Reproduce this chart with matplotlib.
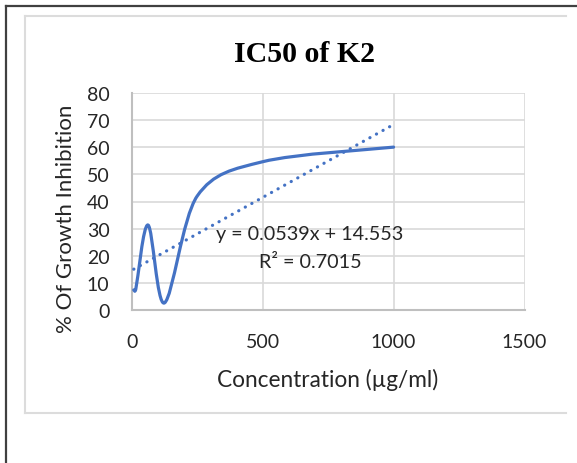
import matplotlib
matplotlib.use("Agg")
import matplotlib.pyplot as plt
from matplotlib.path import Path
from matplotlib.patches import PathPatch
from matplotlib.lines import Line2D
import numpy as np

# data
conc = [7.8125, 15.625, 62.5, 125, 250, 500, 1000]
inhibition = [7.3, 7.6, 31.3, 2.5, 42.0, 54.7, 60.1]
slope = 0.0539
intercept = 14.553
r2 = 0.7015

xticks = [0, 500, 1000, 1500]
yticks = [0, 10, 20, 30, 40, 50, 60, 70, 80]

W, H = 577, 464
blue = "#4472C4"
font = "Lato"


def smooth_path(xs, ys):
    # excel style smoothed line: bezier handles = (P[i+1] - P[i-1]) / 6,
    # shortened when they would run past the neighbouring point in x
    P = np.column_stack([xs, ys]).astype(float)
    n = len(P)
    hnd = np.zeros_like(P)
    hnd[0] = (P[1] - P[0]) / 6
    hnd[-1] = (P[-1] - P[-2]) / 6
    for i in range(1, n - 1):
        hnd[i] = (P[i + 1] - P[i - 1]) / 6
    verts = [tuple(P[0])]
    codes = [Path.MOVETO]
    for i in range(n - 1):
        dx = P[i + 1, 0] - P[i, 0]
        a = hnd[i] * min(1, 0.45 * dx / hnd[i, 0])
        b = hnd[i + 1] * min(1, 0.45 * dx / hnd[i + 1, 0])
        verts += [tuple(P[i] + a), tuple(P[i + 1] - b), tuple(P[i + 1])]
        codes += [Path.CURVE4] * 3
    return Path(verts, codes)


fig = plt.figure(figsize=(W / 100, H / 100), dpi=100)

# plot area in pixels
left, right, top, bottom = 131.7, 524.5, 94.3, 310.7
ax = fig.add_axes([left / W, 1 - bottom / H, (right - left) / W, (bottom - top) / H])

ax.add_patch(PathPatch(smooth_path(conc, inhibition), facecolor="none",
                       edgecolor=blue, lw=2.3, capstyle="round",
                       joinstyle="round", zorder=3))

xt = np.array([conc[0], conc[-1]])
ax.plot(xt, slope * xt + intercept, color=blue, lw=2.3,
        linestyle=(0, (0.05, 2.3)), dash_capstyle="round", zorder=3)

ax.set_xlim(0, 1500)
ax.set_ylim(0, 80)
ax.set_xticks(xticks)
ax.set_yticks(yticks)
ax.grid(True, color="#d9d9d9", lw=1.2)
ax.set_axisbelow(True)
for s in ["top", "right"]:
    ax.spines[s].set_visible(False)
for s in ["left", "bottom"]:
    ax.spines[s].set_color("#bfbfbf")
    ax.spines[s].set_linewidth(1.5)
ax.tick_params(length=0, labelsize=14, colors="#262626")
ax.tick_params(axis="y", pad=16)
ax.tick_params(axis="x", pad=17)
for lab in ax.get_xticklabels() + ax.get_yticklabels():
    lab.set_fontfamily(font)
    lab.set_color("#262626")

ax.set_xlabel("Concentration (µg/ml)", fontsize=16.3, family=font,
              color="#262626", labelpad=13)
ax.set_ylabel("% Of Growth Inhibition", fontsize=16, family=font,
              color="#262626", labelpad=8)
ax.yaxis.label.set_y(0.424)

fig.text(304 / W, 1 - 55 / H, "IC50 of K2", ha="center", va="center",
         fontsize=21.5, fontweight="bold", family="Liberation Serif")

fig.text(310 / W, 1 - 235 / H, f"y = {slope}x + {intercept}", ha="center",
         va="center", fontsize=14.2, family=font, color="#262626")
fig.text(310 / W, 1 - 262.5 / H, f"R² = {r2}", ha="center",
         va="center", fontsize=14.2, family=font, color="#262626")


# outer frame (dark) and chart area box (light)
def px_line(xs, ys, color, lw):
    fig.add_artist(Line2D([x / W for x in xs], [1 - y / H for y in ys],
                          transform=fig.transFigure, color=color, lw=lw))


px_line([6, W], [6.5, 6.5], "#404040", 1.6)
px_line([6, 6], [6.5, H], "#404040", 1.6)
px_line([25, 566], [16.5, 16.5], "#dcdcdc", 1.5)
px_line([25, 566], [414, 414], "#dcdcdc", 1.5)
px_line([25, 25], [16.5, 414], "#dcdcdc", 1.5)

fig.savefig("out.png", dpi=100)
